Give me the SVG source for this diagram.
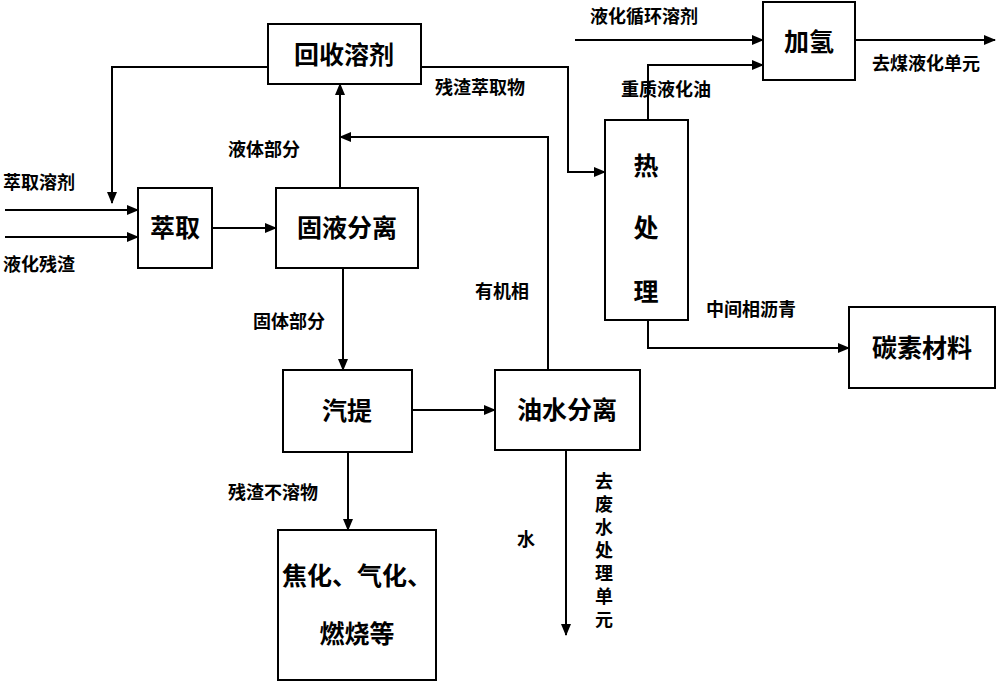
<svg xmlns="http://www.w3.org/2000/svg" width="998" height="688" viewBox="0 0 998 688">
<defs>
<marker id="a" markerWidth="12" markerHeight="10" refX="11" refY="5" orient="auto" markerUnits="userSpaceOnUse"><path d="M0,0 L12,5 L0,10 Z" fill="#000"/></marker>
<style>
.b{fill:#fff;stroke:#000;stroke-width:2}
.t{font-family:"Liberation Sans","Noto Sans CJK SC",sans-serif;font-weight:bold;font-size:25px;text-anchor:middle;dominant-baseline:central}
.l{font-family:"Liberation Sans","Noto Sans CJK SC",sans-serif;font-weight:bold;font-size:18px}
.c{fill:none;stroke:#000;stroke-width:2;marker-end:url(#a)}
</style>
</defs>
<rect width="998" height="688" fill="#fff"/>
<g id="connectors">
<path class="c" d="M5,210 H138"/>
<path class="c" d="M5,237 H138"/>
<path class="c" d="M268,67 H112 V203"/>
<path class="c" d="M212,228 H276"/>
<path class="c" d="M340,188 V84"/>
<path class="c" d="M548,370 V137 H340"/>
<path class="c" d="M421,67 H568 V172 H605"/>
<path class="c" d="M343,268 V370"/>
<path class="c" d="M412,410 H495"/>
<path class="c" d="M348,452 V530"/>
<path class="c" d="M566,450 V635"/>
<path class="c" d="M648,120 V65 H763"/>
<path class="c" d="M575,40 H763"/>
<path class="c" d="M855,40 H995"/>
<path class="c" d="M648,320 V348 H849"/>
<text class="l" x="3" y="189">萃取溶剂</text>
<text class="l" x="3" y="271">液化残渣</text>
<text class="l" x="228" y="156">液体部分</text>
<text class="l" x="475" y="298">有机相</text>
<text class="l" x="435" y="94">残渣萃取物</text>
<text class="l" x="253" y="328">固体部分</text>
<text class="l" x="228" y="499">残渣不溶物</text>
<text class="l" x="517" y="546">水</text>
<text class="l" x="602" y="472" writing-mode="tb" letter-spacing="5">去废水处理单元</text>
<text class="l" x="621" y="96">重质液化油</text>
<text class="l" x="590" y="23">液化循环溶剂</text>
<text class="l" x="872" y="70">去煤液化单元</text>
<text class="l" x="706" y="316">中间相沥青</text>
</g>
<g id="n1"><rect class="b" x="268" y="24" width="153" height="60"/><text class="t" x="344" y="55">回收溶剂</text></g>
<g id="n2"><rect class="b" x="138" y="188" width="74" height="80"/><text class="t" x="175" y="228">萃取</text></g>
<g id="n3"><rect class="b" x="276" y="188" width="142" height="80"/><text class="t" x="347" y="228">固液分离</text></g>
<g id="n4"><rect class="b" x="283" y="370" width="129" height="82"/><text class="t" x="347" y="411">汽提</text></g>
<g id="n5"><rect class="b" x="495" y="370" width="145" height="80"/><text class="t" x="567" y="410">油水分离</text></g>
<g id="n6"><rect class="b" x="278" y="530" width="158" height="150"/><text class="t" x="357" y="576">焦化、气化、</text><text class="t" x="357" y="634">燃烧等</text></g>
<g id="n7"><rect class="b" x="605" y="120" width="83" height="200"/><text class="t" x="646" y="166">热</text><text class="t" x="646" y="228">处</text><text class="t" x="646" y="292">理</text></g>
<g id="n8"><rect class="b" x="763" y="2" width="92" height="78"/><text class="t" x="809" y="42">加氢</text></g>
<g id="n9"><rect class="b" x="849" y="307" width="146" height="81"/><text class="t" x="922" y="348">碳素材料</text></g>
</svg>
